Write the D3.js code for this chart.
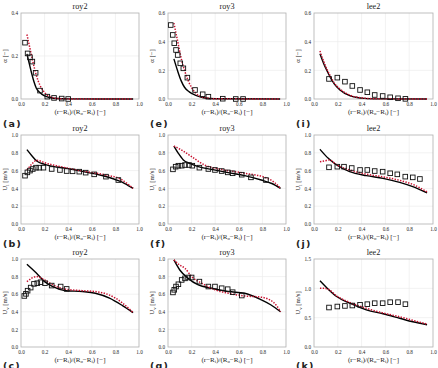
<!DOCTYPE html>
<html>
<head>
<meta charset="utf-8">
<script src="https://cdn.jsdelivr.net/npm/d3@7"></script>
<style>
  body { margin: 0; background: #fff; }
  text { font-family: "Liberation Serif", "DejaVu Serif", serif; fill: #222; }
</style>
</head>
<body>
<svg id="chart"></svg>
<script>
var width = 438;
var height = 368;

// x ticks shared by all panels
var xTicks = [0, 0.2, 0.4, 0.6, 0.8, 1.0];

// (a) roy2 alpha
var aBlack = [[0.05,0.21],[0.07,0.165],[0.09,0.12],[0.11,0.08],[0.13,0.05],[0.16,0.03],[0.2,0.014],[0.25,0.006],[0.3,0.002],[0.4,0.0005],[0.95,0]];
var aRed = [[0.05,0.30],[0.07,0.25],[0.1,0.175],[0.13,0.11],[0.16,0.065],[0.2,0.03],[0.25,0.01],[0.3,0.003],[0.4,0.0005],[0.95,0]];
var aExp = [[0.034,0.262],[0.056,0.212],[0.076,0.194],[0.096,0.174],[0.124,0.122],[0.161,0.039],[0.223,0.011],[0.28,0.005],[0.345,0.002],[0.40,0]];

// (e) roy3 alpha
var eBlack = [[0.05,0.28],[0.08,0.2],[0.11,0.13],[0.14,0.082],[0.18,0.05],[0.23,0.027],[0.3,0.009],[0.4,0.002],[0.95,0]];
var eRed = [[0.05,0.53],[0.08,0.41],[0.116,0.27],[0.14,0.2],[0.17,0.13],[0.2,0.08],[0.23,0.045],[0.3,0.012],[0.4,0.002],[0.95,0]];
var eExp = [[0.023,0.516],[0.04,0.447],[0.053,0.389],[0.068,0.342],[0.082,0.307],[0.104,0.249],[0.13,0.214],[0.164,0.149],[0.229,0.063],[0.294,0.033],[0.342,0.016],[0.464,0.002],[0.574,0],[0.636,0]];

// (i) lee2 alpha
var iBlack = [[0.05,0.315],[0.08,0.25],[0.11,0.195],[0.134,0.156],[0.17,0.105],[0.218,0.063],[0.3,0.023],[0.4,0.006],[0.5,0.001],[0.95,0]];
var iRed = [[0.05,0.335],[0.08,0.265],[0.11,0.205],[0.134,0.165],[0.17,0.112],[0.218,0.07],[0.3,0.027],[0.4,0.008],[0.5,0.002],[0.95,0]];
var iExp = [[0.126,0.14],[0.196,0.149],[0.26,0.121],[0.322,0.091],[0.387,0.063],[0.448,0.047],[0.51,0.028],[0.577,0.021],[0.64,0.012],[0.706,0.005],[0.768,0.001]];

// (b) roy2 U_l
var bBlack = [[0.05,0.835],[0.09,0.77],[0.133,0.708],[0.2,0.67],[0.3,0.64],[0.387,0.625],[0.53,0.588],[0.67,0.55],[0.81,0.494],[0.88,0.455],[0.95,0.40]];
var bRed = [[0.05,0.607],[0.09,0.67],[0.13,0.715],[0.22,0.68],[0.35,0.64],[0.5,0.6],[0.7,0.555],[0.85,0.5],[0.95,0.40]];
var bExp = [[0.034,0.543],[0.054,0.58],[0.076,0.6],[0.1,0.618],[0.127,0.633],[0.155,0.633],[0.19,0.633],[0.26,0.618],[0.33,0.607],[0.387,0.595],[0.437,0.592],[0.494,0.588],[0.548,0.577],[0.62,0.558],[0.72,0.532],[0.825,0.494]];

// (f) roy3 U_l
var fBlack = [[0.05,0.876],[0.088,0.794],[0.13,0.72],[0.186,0.68],[0.257,0.644],[0.37,0.614],[0.51,0.577],[0.65,0.543],[0.79,0.494],[0.88,0.455],[0.954,0.40]];
var fRed = [[0.05,0.876],[0.116,0.83],[0.2,0.757],[0.31,0.663],[0.45,0.614],[0.65,0.57],[0.82,0.524],[0.9,0.47],[0.954,0.40]];
var fExp = [[0.042,0.614],[0.065,0.644],[0.088,0.655],[0.116,0.655],[0.144,0.663],[0.178,0.663],[0.206,0.655],[0.266,0.633],[0.342,0.618],[0.398,0.607],[0.455,0.595],[0.506,0.58],[0.548,0.57],[0.625,0.554],[0.703,0.524],[0.83,0.494]];

// (j) lee2 U_l
var jBlack = [[0.05,0.839],[0.12,0.738],[0.19,0.663],[0.3,0.588],[0.44,0.543],[0.58,0.513],[0.72,0.468],[0.83,0.42],[0.95,0.35]];
var jRed = [[0.05,0.70],[0.09,0.71],[0.13,0.72],[0.19,0.665],[0.3,0.607],[0.44,0.56],[0.58,0.53],[0.72,0.49],[0.83,0.445],[0.95,0.36]];
var jExp = [[0.126,0.637],[0.196,0.644],[0.252,0.644],[0.317,0.629],[0.387,0.607],[0.448,0.607],[0.51,0.595],[0.577,0.588],[0.64,0.57],[0.7,0.558],[0.767,0.532],[0.83,0.524],[0.89,0.506]];

// (c) roy2 U_v
var cBlack = [[0.05,0.94],[0.13,0.84],[0.2,0.743],[0.27,0.687],[0.38,0.64],[0.52,0.63],[0.63,0.611],[0.75,0.555],[0.86,0.47],[0.95,0.39]];
var cRed = [[0.05,0.743],[0.13,0.8],[0.2,0.762],[0.27,0.706],[0.38,0.657],[0.52,0.64],[0.63,0.63],[0.75,0.59],[0.86,0.5],[0.95,0.39]];
var cExp = [[0.028,0.58],[0.042,0.604],[0.056,0.64],[0.082,0.675],[0.11,0.717],[0.138,0.725],[0.166,0.736],[0.203,0.725],[0.26,0.698],[0.336,0.687],[0.387,0.66]];

// (g) roy3 U_v
var gBlack = [[0.05,0.99],[0.10,0.875],[0.17,0.78],[0.257,0.706],[0.37,0.668],[0.51,0.63],[0.65,0.611],[0.79,0.536],[0.87,0.48],[0.954,0.40]];
var gRed = [[0.05,0.99],[0.1,0.93],[0.144,0.894],[0.2,0.8],[0.285,0.725],[0.398,0.65],[0.51,0.611],[0.65,0.58],[0.79,0.566],[0.9,0.5],[0.954,0.40]];
var gExp = [[0.042,0.62],[0.053,0.65],[0.068,0.687],[0.088,0.713],[0.116,0.762],[0.144,0.78],[0.17,0.79],[0.2,0.79],[0.266,0.743],[0.342,0.687],[0.398,0.687],[0.455,0.668],[0.506,0.657],[0.548,0.623],[0.625,0.585]];

// (k) lee2 U_v
var kBlack = [[0.05,1.13],[0.12,0.985],[0.19,0.86],[0.3,0.747],[0.44,0.634],[0.58,0.566],[0.72,0.49],[0.83,0.43],[0.95,0.38]];
var kRed = [[0.05,1.0],[0.09,1.0],[0.12,0.985],[0.19,0.87],[0.3,0.76],[0.44,0.66],[0.58,0.58],[0.72,0.515],[0.83,0.455],[0.95,0.39]];
var kExp = [[0.126,0.673],[0.196,0.69],[0.26,0.7],[0.322,0.707],[0.387,0.72],[0.448,0.73],[0.51,0.747],[0.577,0.747],[0.64,0.764],[0.706,0.764],[0.768,0.73]];

var cols = [{x0: 21, x1: 139}, {x0: 168, x1: 286}, {x0: 314, x1: 433}];
var rows = [{y0: 13, y1: 99, ly: 127}, {y0: 135, y1: 224, ly: 247}, {y0: 259, y1: 347, ly: 369}];

var panels = [
  {r:0, c:0, title:"roy2", letter:"a", yl:"alpha", ymax:0.4, yTicks:[0,0.2,0.4], black:aBlack, red:aRed, exp:aExp},
  {r:0, c:1, title:"roy3", letter:"e", yl:"alpha", ymax:0.6, yTicks:[0,0.2,0.4,0.6], black:eBlack, red:eRed, exp:eExp},
  {r:0, c:2, title:"lee2", letter:"i", yl:"alpha", ymax:0.6, yTicks:[0,0.2,0.4,0.6], black:iBlack, red:iRed, exp:iExp},
  {r:1, c:0, title:"roy2", letter:"b", yl:"l", ymax:1, yTicks:[0,0.2,0.4,0.6,0.8,1], black:bBlack, red:bRed, exp:bExp},
  {r:1, c:1, title:"roy3", letter:"f", yl:"l", ymax:1, yTicks:[0,0.2,0.4,0.6,0.8,1], black:fBlack, red:fRed, exp:fExp},
  {r:1, c:2, title:"lee2", letter:"j", yl:"l", ymax:1, yTicks:[0,0.2,0.4,0.6,0.8,1], black:jBlack, red:jRed, exp:jExp},
  {r:2, c:0, title:"roy2", letter:"c", yl:"v", ymax:1, yTicks:[0,0.2,0.4,0.6,0.8,1], black:cBlack, red:cRed, exp:cExp},
  {r:2, c:1, title:"roy3", letter:"g", yl:"v", ymax:1, yTicks:[0,0.2,0.4,0.6,0.8,1], black:gBlack, red:gRed, exp:gExp},
  {r:2, c:2, title:"lee2", letter:"k", yl:"v", ymax:1.5, yTicks:[0,0.5,1,1.5], black:kBlack, red:kRed, exp:kExp}
];

var svg = d3.select("#chart")
    .attr("width", width)
    .attr("height", height);

panels.forEach(function(p) {
  var col = cols[p.c], row = rows[p.r];
  var x = d3.scaleLinear().domain([0, 1]).range([col.x0, col.x1]);
  var y = d3.scaleLinear().domain([0, p.ymax]).range([row.y1, row.y0]);
  var g = svg.append("g");

  // grid
  g.selectAll(".gx").data(xTicks.slice(1, -1)).enter().append("line")
      .attr("x1", d => x(d)).attr("x2", d => x(d))
      .attr("y1", row.y0).attr("y2", row.y1)
      .attr("stroke", "#ececec").attr("stroke-width", 0.7);
  g.selectAll(".gy").data(p.yTicks.slice(1, -1)).enter().append("line")
      .attr("x1", col.x0).attr("x2", col.x1)
      .attr("y1", d => y(d)).attr("y2", d => y(d))
      .attr("stroke", "#ececec").attr("stroke-width", 0.7);

  // axes
  var xAxis = d3.axisBottom(x).tickValues(xTicks).tickFormat(d3.format(".1f")).tickSize(0).tickPadding(3);
  var yAxis = d3.axisLeft(y).tickValues(p.yTicks).tickFormat(d3.format(".1f")).tickSize(0).tickPadding(3);
  var gx = g.append("g").attr("transform", "translate(0," + row.y1 + ")").call(xAxis);
  var gy = g.append("g").attr("transform", "translate(" + col.x0 + ",0)").call(yAxis);
  [gx, gy].forEach(function(a) {
    a.select(".domain").remove();
    a.selectAll("text").attr("font-size", 5.2).attr("fill", "#555")
      .style("font-family", "'Liberation Serif', serif");
  });

  g.append("rect")
      .attr("x", col.x0).attr("y", row.y0)
      .attr("width", col.x1 - col.x0).attr("height", row.y1 - row.y0)
      .attr("fill", "none").attr("stroke", "#b0b0b0").attr("stroke-width", 0.8);

  var line = d3.line().x(d => x(d[0])).y(d => y(d[1])).curve(d3.curveMonotoneX);

  g.append("path").datum(p.black).attr("d", line)
      .attr("fill", "none").attr("stroke", "#000").attr("stroke-width", 1.4);
  g.append("path").datum(p.red).attr("d", line)
      .attr("fill", "none").attr("stroke", "#c8102e").attr("stroke-width", 1.5)
      .attr("stroke-dasharray", "1.4,1.4");

  var s = 4.6;
  g.selectAll(".sq").data(p.exp).enter().append("rect")
      .attr("x", d => x(d[0]) - s / 2).attr("y", d => y(d[1]) - s / 2)
      .attr("width", s).attr("height", s)
      .attr("fill", "none").attr("stroke", "#111").attr("stroke-width", 0.9);

  // title
  var cx = (col.x0 + col.x1) / 2;
  g.append("text").attr("x", cx).attr("y", row.y0 - 4)
      .attr("text-anchor", "middle").attr("font-size", 8.2).attr("fill", "#222")
      .text(p.title);

  // x label
  var xl = g.append("text").attr("x", cx).attr("y", row.y1 + 14.5)
      .attr("text-anchor", "middle").attr("font-size", 7).attr("fill", "#222");
  xl.append("tspan").text("(r\u2212R");
  xl.append("tspan").attr("font-size", 4.8).attr("dy", 1.5).text("i");
  xl.append("tspan").attr("dy", -1.5).text(")/(R");
  xl.append("tspan").attr("font-size", 4.8).attr("dy", 1.5).text("o");
  xl.append("tspan").attr("dy", -1.5).text("\u2212R");
  xl.append("tspan").attr("font-size", 4.8).attr("dy", 1.5).text("i");
  xl.append("tspan").attr("dy", -1.5).text(") [\u2212]");

  // y label
  var cy = (row.y0 + row.y1) / 2;
  var yl = g.append("text")
      .attr("transform", "translate(" + (col.x0 - 14) + "," + cy + ") rotate(-90)")
      .attr("text-anchor", "middle").attr("font-size", 6.8).attr("fill", "#222");
  if (p.yl === "alpha") {
    yl.text("\u03b1 [\u2212]");
  } else {
    yl.append("tspan").text("U");
    yl.append("tspan").attr("font-size", 4.8).attr("dy", 1.5).text(p.yl);
    yl.append("tspan").attr("dy", -1.5).text(" [m/s]");
  }

  // panel letter
  g.append("text").attr("x", col.x0 - 18).attr("y", row.ly)
      .attr("font-size", 9.5).attr("font-weight", "bold").attr("fill", "#111")
      .style("font-family", "'DejaVu Sans', sans-serif")
      .attr("letter-spacing", 1.2)
      .text("(" + p.letter + ")");
});
</script>
</body>
</html>
